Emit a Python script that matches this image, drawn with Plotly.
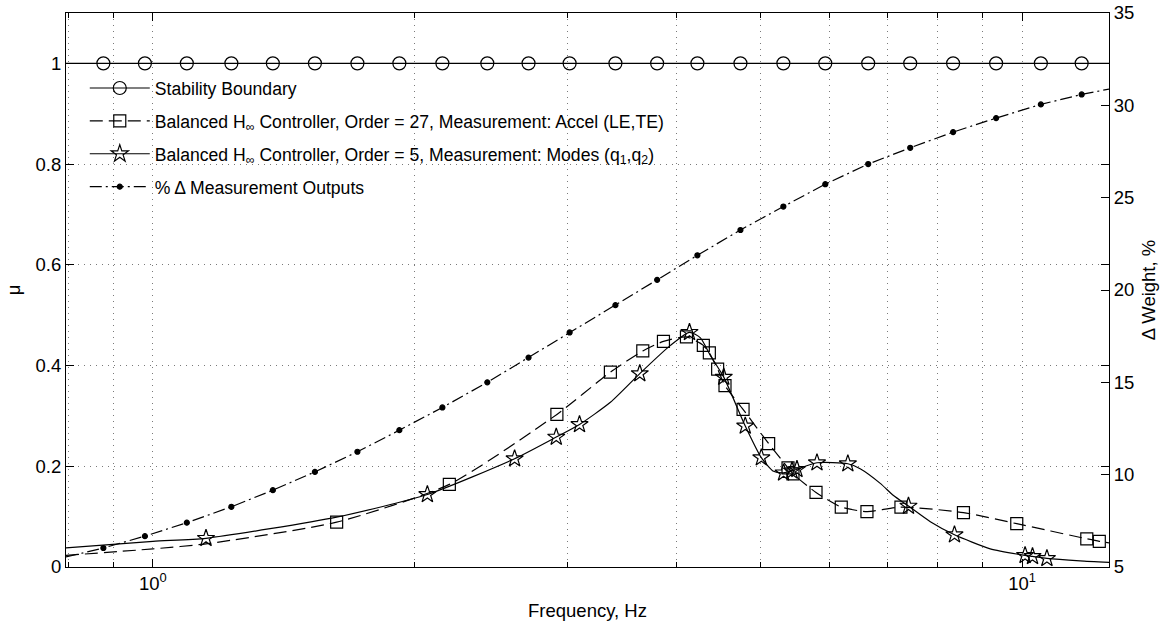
import plotly.graph_objects as go

# ---------------- data ----------------
# Stability boundary (mu = 1) : line across the axis, circle markers at these frequencies
stab_line_freq = [0.794, 12.59]
stab_line_mu = [1.0, 1.0]
stab_mark_freq = [0.877, 0.979, 1.094, 1.231, 1.374, 1.536, 1.719, 1.921, 2.153, 2.425,
                  2.705, 3.016, 3.405, 3.803, 4.231, 4.742, 5.313, 5.937, 6.652, 7.435,
                  8.330, 9.335, 10.51, 11.71]
stab_mark_mu = [1.0, 1.0, 1.0, 1.0, 1.0, 1.0, 1.0, 1.0, 1.0, 1.0, 1.0, 1.0,
                1.0, 1.0, 1.0, 1.0, 1.0, 1.0, 1.0, 1.0, 1.0, 1.0, 1.0, 1.0]

# Balanced H-inf controller, order 27 (dashed, squares)
o27_line_freq = [0.794, 1.0, 1.151, 1.627, 2.193, 2.916, 3.360, 3.661, 3.867, 4.110,
                 4.298, 4.367, 4.464, 4.552, 4.775, 5.110, 5.379, 5.450, 5.793, 6.194,
                 6.630, 7.255, 8.561, 9.860, 11.87, 12.27, 12.59]
o27_line_mu = [0.023, 0.036, 0.046, 0.089, 0.164, 0.303, 0.387, 0.429, 0.448, 0.457,
               0.440, 0.425, 0.393, 0.360, 0.313, 0.245, 0.197, 0.185, 0.148, 0.119,
               0.110, 0.119, 0.108, 0.086, 0.056, 0.051, 0.048]
o27_mark_freq = [1.627, 2.193, 2.916, 3.360, 3.661, 3.867, 4.110, 4.298, 4.367, 4.464,
                 4.552, 4.775, 5.110, 5.379, 5.450, 5.793, 6.194, 6.630, 7.255, 8.561,
                 9.860, 11.87, 12.27]
o27_mark_mu = [0.089, 0.164, 0.303, 0.387, 0.429, 0.448, 0.457, 0.440, 0.425, 0.393,
               0.360, 0.313, 0.245, 0.197, 0.185, 0.148, 0.119, 0.110, 0.119, 0.108,
               0.086, 0.056, 0.051]

# Balanced H-inf controller, order 5 (solid, stars)
o5_line_freq = [0.794, 1.0, 1.151, 1.627, 2.069, 2.607, 2.911, 3.096, 3.360, 3.632,
                3.939, 4.143, 4.265, 4.379, 4.537, 4.803, 5.012, 5.177, 5.316, 5.436,
                5.508, 5.808, 6.303, 6.512, 6.868, 7.113, 7.401, 7.842, 8.360, 9.190,
                10.08, 10.28, 10.68, 11.66, 12.59]
o5_line_mu = [0.038, 0.051, 0.057, 0.099, 0.144, 0.215, 0.258, 0.283, 0.327, 0.384,
              0.440, 0.466, 0.455, 0.420, 0.377, 0.280, 0.217, 0.190, 0.187, 0.191,
              0.194, 0.207, 0.205, 0.195, 0.166, 0.142, 0.121, 0.090, 0.064, 0.036,
              0.023, 0.021, 0.017, 0.012, 0.009]
o5_mark_freq = [1.151, 2.069, 2.607, 2.911, 3.096, 3.632, 4.143, 4.537, 4.803, 5.012,
                5.316, 5.436, 5.508, 5.808, 6.303, 7.401, 8.360, 10.08, 10.28, 10.68]
o5_mark_mu = [0.057, 0.144, 0.215, 0.258, 0.283, 0.384, 0.466, 0.377, 0.280, 0.217,
              0.187, 0.191, 0.194, 0.207, 0.205, 0.121, 0.064, 0.023, 0.021, 0.017]

# % Delta measurement outputs (right axis, dash-dot, dots)
dw_line_freq = [0.794, 0.877, 0.979, 1.094, 1.231, 1.374, 1.536, 1.719, 1.921, 2.153,
                2.425, 2.705, 3.016, 3.405, 3.803, 4.231, 4.742, 5.313, 5.937, 6.652,
                7.435, 8.330, 9.335, 10.51, 11.71, 12.59]
dw_line_pct = [5.54, 6.03, 6.67, 7.40, 8.26, 9.16, 10.15, 11.24, 12.41, 13.64,
               15.00, 16.34, 17.70, 19.18, 20.55, 21.88, 23.25, 24.52, 25.73, 26.82,
               27.70, 28.55, 29.31, 30.05, 30.59, 30.88]
dw_mark_freq = dw_line_freq[1:-1]
dw_mark_pct = dw_line_pct[1:-1]

x_major = [1, 10]
x_major_text = ["10<sup>0</sup>", "10<sup>1</sup>"]
x_minor = [0.8, 0.9, 2, 3, 4, 5, 6, 7, 8, 9]
y_left_ticks = [0, 0.2, 0.4, 0.6, 0.8, 1.0]
y_left_text = ["0", "0.2", "0.4", "0.6", "0.8", "1"]
y_right_ticks = [5, 10, 15, 20, 25, 30, 35]

legend_names = [
    "Stability Boundary",
    "Balanced H<sub>\u221e</sub> Controller, Order = 27, Measurement: Accel (LE,TE)",
    "Balanced H<sub>\u221e</sub> Controller, Order = 5, Measurement: Modes (q<sub>1</sub>,q<sub>2</sub>)",
    "% \u0394 Measurement Outputs",
]

# ---------------- figure ----------------
K = "black"
LW = 1.2
DASH = "13px,6px"
DASHDOT = "12px,4px,2px,4px"
FONT = "Liberation Sans, Arial, sans-serif"
FS = 18.5

fig = go.Figure()

def add_series(lx, ly, mx, my, dash, symbol, msize, name, rank, yaxis="y", shape="linear"):
    fig.add_trace(go.Scatter(x=lx, y=ly, mode="lines", yaxis=yaxis, showlegend=False,
                             line=dict(color=K, width=LW, dash=dash, shape=shape, smoothing=0.6),
                             hoverinfo="skip"))
    fig.add_trace(go.Scatter(x=mx, y=my, mode="markers", yaxis=yaxis, showlegend=False,
                             marker=dict(symbol=symbol, size=msize, color=K,
                                         line=dict(color=K, width=1.2))))
    # legend proxy
    fig.add_trace(go.Scatter(x=[None], y=[None], mode="lines+markers", name=name, yaxis=yaxis,
                             legendrank=rank, legendgroup=str(rank),
                             line=dict(color=K, width=LW, dash=dash),
                             marker=dict(symbol=symbol, size=msize, color=K,
                                         line=dict(color=K, width=1.2))))

add_series(dw_line_freq, dw_line_pct, dw_mark_freq, dw_mark_pct, DASHDOT, "circle", 5,
           legend_names[3], 4, yaxis="y2")
add_series(o27_line_freq, o27_line_mu, o27_mark_freq, o27_mark_mu, DASH, "square-open", 12,
           legend_names[1], 2, shape="spline")
add_series(o5_line_freq, o5_line_mu, o5_mark_freq, o5_mark_mu, "solid", "star-open", 13,
           legend_names[2], 3, shape="spline")
add_series(stab_line_freq, stab_line_mu, stab_mark_freq, stab_mark_mu, "solid", "circle-open", 13,
           legend_names[0], 1)

grid = dict(showgrid=True, gridcolor="#7a7a7a", griddash="1px,5px", gridwidth=1)

fig.update_layout(
    width=1168, height=628,
    margin=dict(l=66, r=59, t=13, b=61, autoexpand=False),
    paper_bgcolor="white", plot_bgcolor="white",
    font=dict(family=FONT, size=FS, color=K),
    showlegend=True,
    legend=dict(x=0.018, y=0.897, xanchor="left", yanchor="top",
                bgcolor="rgba(0,0,0,0)", borderwidth=0,
                font=dict(family=FONT, size=17.6, color=K),
                traceorder="grouped", tracegroupgap=7, itemwidth=60),
    xaxis=dict(type="log", range=[-0.1, 1.1], automargin=False,
               tickmode="array", tickvals=x_major, ticktext=x_major_text,
               ticks="inside", ticklen=8, tickwidth=1, tickcolor=K,
               showline=True, linecolor=K, linewidth=1, mirror="ticks",
               zeroline=False,
               title=dict(text="Frequency, Hz", standoff=10, font=dict(size=FS)),
               minor=dict(tickmode="array", tickvals=x_minor, ticks="inside", ticklen=5,
                          tickcolor=K, showgrid=True, gridcolor="#7a7a7a",
                          griddash="1px,5px", gridwidth=1),
               **grid),
    yaxis=dict(range=[0, 1.1], tickmode="array", tickvals=y_left_ticks, ticktext=y_left_text,
               automargin=False,
               ticks="inside", ticklen=8, tickcolor=K,
               showline=True, linecolor=K, linewidth=1, mirror="ticks", zeroline=False,
               title=dict(text="\u03bc", standoff=10, font=dict(size=FS)),
               **grid),
    yaxis2=dict(range=[5, 35], overlaying="y", side="right", tickmode="array",
                automargin=False,
                tickvals=y_right_ticks, ticks="inside", ticklen=8, tickcolor=K,
                showline=True, linecolor=K, linewidth=1, showgrid=False, zeroline=False,
                title=dict(text="\u0394 Weight, %", standoff=8, font=dict(size=FS))),
)

fig.write_html("out.html")
